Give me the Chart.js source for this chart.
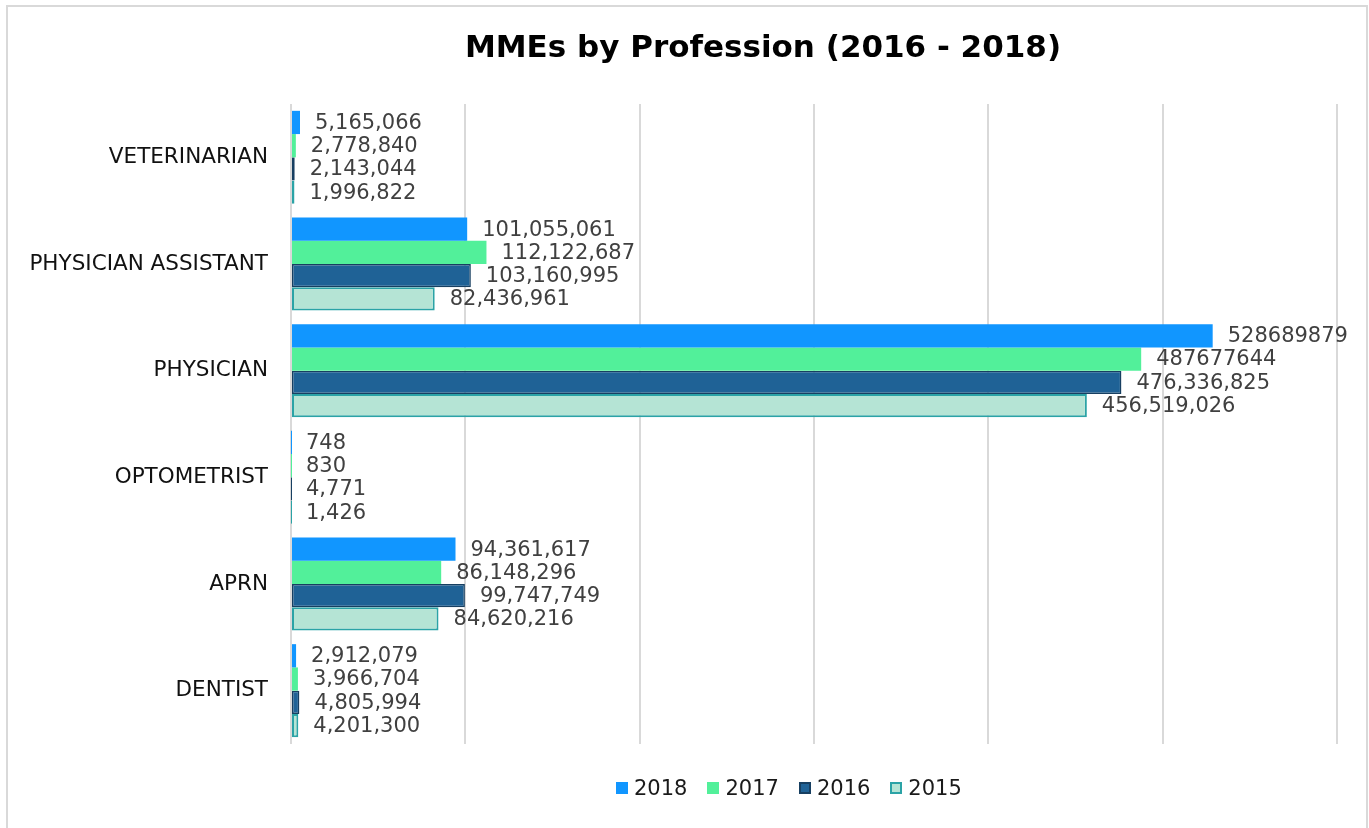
<!DOCTYPE html>
<html>
<head>
<meta charset="utf-8">
<title>MMEs by Profession (2016 - 2018)</title>
<script src="https://cdn.jsdelivr.net/npm/chart.js@4.4.1/dist/chart.umd.min.js"></script>
<style>
    html, body { margin: 0; padding: 0; background: #fff; overflow: hidden; }
    #wrap { position: absolute; left: 0; top: 0; width: 1369px; height: 828px; }
    #frame {
        position: absolute; left: 6px; top: 5px; width: 1358px; height: 840px;
        border: 2px solid #d9d9d9; pointer-events: none;
    }
    #title {
        position: absolute; left: 0; width: 1526px; top: 28px; margin: 0;
        text-align: center; font: bold 31px "DejaVu Sans", sans-serif; color: #000;
    }
    #legend {
        position: absolute; left: 616px; top: 776px; display: flex;
        font: 21px "DejaVu Sans", sans-serif; color: #1a1a1a;
    }
    #legend .item { display: flex; align-items: center; margin-right: 20px; }
    #legend .box { width: 12px; height: 12px; margin-right: 6px; box-sizing: border-box; }
</style>
</head>
<body>
<div id="wrap"><canvas id="chart"></canvas></div>
<div id="frame"></div>
<h1 id="title">MMEs by Profession (2016 - 2018)</h1>
<div id="legend"></div>
<script>
    'use strict';

    var categories = ['VETERINARIAN', 'PHYSICIAN ASSISTANT', 'PHYSICIAN', 'OPTOMETRIST', 'APRN', 'DENTIST'];
    var seriesNames = ['2018', '2017', '2016', '2015'];

    var values2018 = [5165066, 101055061, 528689879, 748, 94361617, 2912079];
    var values2017 = [2778840, 112122687, 487677644, 830, 86148296, 3966704];
    var values2016 = [2143044, 103160995, 476336825, 4771, 99747749, 4805994];
    var values2015 = [1996822, 82436961, 456519026, 1426, 84620216, 4201300];

    // labels that the source shows without thousands separators
    var plainLabels = ['2018|PHYSICIAN', '2017|PHYSICIAN'];

    var xTicks = [0, 100000000, 200000000, 300000000, 400000000, 500000000, 600000000];

    var fills = ['#1196ff', '#52f09a', '#1f6296', '#b5e4d5'];
    var borders = ['#1196ff', '#52f09a', '#173f61', '#2ba3a6'];
    var borderWidths = [0, 0, 1.5, 2];

    var allValues = [values2018, values2017, values2016, values2015];

    var datasets = seriesNames.map(function(name, i) {
        return {
            label: name,
            data: allValues[i],
            backgroundColor: fills[i],
            borderColor: borders[i],
            borderWidth: borderWidths[i],
            borderSkipped: false,
            categoryPercentage: 0.872,
            barPercentage: 1.0
        };
    });

    /**
     * Draw the value next to the end of every bar
     */
    var valueLabels = {
        id: 'valueLabels',
        afterDatasetsDraw: function(chart) {
            var ctx = chart.ctx;
            ctx.save();
            ctx.font = '21px "DejaVu Sans", sans-serif';
            ctx.fillStyle = '#404040';
            ctx.textAlign = 'left';
            ctx.textBaseline = 'middle';
            chart.data.datasets.forEach(function(ds, di) {
                var meta = chart.getDatasetMeta(di);
                meta.data.forEach(function(bar, i) {
                    var v = ds.data[i];
                    var key = ds.label + '|' + categories[i];
                    var text = plainLabels.indexOf(key) >= 0 ? String(v) : v.toLocaleString('en-US');
                    ctx.fillText(text, bar.x + 15, bar.y + 1);
                });
            });
            ctx.restore();
        }
    };

    new Chart(document.getElementById('chart'), {
        type: 'bar',
        data: { labels: categories, datasets: datasets },
        options: {
            indexAxis: 'y',
            responsive: true,
            maintainAspectRatio: false,
            animation: false,
            layout: { padding: { left: 0, right: 32, top: 104, bottom: 84 } },
            plugins: {
                legend: { display: false },
                title: { display: false },
                tooltip: { enabled: false }
            },
            scales: {
                x: {
                    min: xTicks[0],
                    max: xTicks[xTicks.length - 1],
                    afterBuildTicks: function(scale) {
                        scale.ticks = xTicks.map(function(t) { return { value: t }; });
                    },
                    ticks: { display: false },
                    grid: { color: '#d9d9d9', lineWidth: 2, drawTicks: false },
                    border: { display: false },
                    afterFit: function(scale) { scale.height = 0; }
                },
                y: {
                    grid: { display: false, drawTicks: false },
                    border: { display: false },
                    ticks: {
                        padding: 23,
                        color: '#111',
                        font: { family: '"DejaVu Sans", sans-serif', size: 21.5 }
                    },
                    afterFit: function(scale) { scale.width = 291; }
                }
            }
        },
        plugins: [valueLabels]
    });

    // legend built from the same series
    var legend = document.getElementById('legend');
    seriesNames.forEach(function(name, i) {
        var item = document.createElement('div');
        item.className = 'item';
        var box = document.createElement('span');
        box.className = 'box';
        box.style.background = fills[i];
        if (borderWidths[i] > 0) {
            box.style.border = '2px solid ' + borders[i];
        }
        var txt = document.createElement('span');
        txt.textContent = name;
        item.appendChild(box);
        item.appendChild(txt);
        legend.appendChild(item);
    });
</script>
</body>
</html>
